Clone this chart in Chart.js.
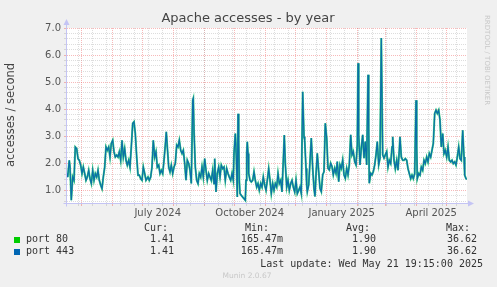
<!DOCTYPE html>
<html>
<head>
<meta charset="utf-8">
<script src="https://cdn.jsdelivr.net/npm/chart.js@4"></script>
<style>
html,body{margin:0;padding:0;background:#f0f0f0;}
#wrap{width:497px;height:287px;position:relative;}
</style>
</head>
<body>
<div id="wrap"><canvas id="c" width="497" height="287"></canvas></div>
<script>
// ---- data (days since 2024-04-16 19:15, accesses/second) ----
const days = [0,0.7,2.3,3,4.3,5.7,7,8.3,9.7,11,12.3,13.7,15,16.3,17.7,19,20.3,21.7,23,24.3,25.7,27,28.3,29.7,31,32.3,33.7,35,36.3,37.7,39,40.3,41.7,43,44.3,45.7,47,48.3,49.7,51,52.3,53.7,55,56.3,57.7,59,60.3,61.7,63,64.3,65.7,67,68.3,69.7,71,72.3,73.7,75,76.3,77.7,79,
81,82.3,83.7,85,86.3,87.7,89,90.3,91.7,93,94.3,95.7,97,98.3,99.3,100.3,101.7,103,104.3,105.7,107,108.3,109.7,111,112.3,113.7,115,116.3,117.7,119,120.3,121.7,123,124.3,125.7,126.3,127,128.3,129.7,131,132.3,133.7,135,136.3,137.7,139,140.3,141.7,143,144.3,145.7,147,147.7,149,150.3,151.7,153,154.3,155.7,157,158.3,159.7,
161,162.3,163.7,165,166.3,167,168.3,169.3,170.3,171,171.7,172.3,173,174.3,175.7,177,178.3,179,179.7,180.3,181,181.7,183,184.3,185.7,187,188.3,189.7,191,192.3,193.7,195,196.3,197.7,199,200.3,201.7,203,204.3,205.7,207,208.3,209.7,211,212.3,213.7,215,216.3,217.3,218.3,219.7,221,222.3,223.7,225,226.3,227.7,229,230.3,231.7,233,234.3,235.7,237,237.7,
239,239.7,240.3,241.7,243,244.3,245.7,247,248,249,250.3,251.7,253,254.3,255.7,257,258.3,259.7,261,262.3,263.7,265,266.3,267.7,269,270.3,271.7,273,274.3,275.7,277,278.3,279.7,281,282.3,283.7,285,286.3,287.7,289,290.3,291,291.7,293,294.3,295.7,297,298.3,299.7,301,301.7,302.3,303.7,305,306.3,307.7,309,310.3,311.7,313,314.3,315.7,317,318.3,319.7,
321,322.3,323.7,325,325.7,327,328.3,329.7,331,332.3,333,334.3,335.7,337,338.3,339.7,341,342.3,343.7,345,346.3,347.7,349,349.7,350.3,351.7,353,354.3,355.7,357,358.3,359.7,361,362.3,363.7,365,366.3,367.7,369,370.3,371.7,373,374.3,375.7,377,378.3,379.7,381,382.3,383.7,385,386.3,387.7,389,390.3,391.7,393,394.3,395.7,397,397.7,399,400];

const port80 = [1.62,1.49,2.11,1.86,0.63,1.49,1.37,2.6,2.54,2.17,2.11,1.93,1.62,1.86,1.62,1.37,1.49,1.74,1.43,1.25,1.74,1.37,1.62,1.49,1.74,1.37,1.19,1.06,1.49,1.86,2.6,2.48,2.6,2.23,2.73,2.85,2.42,2.23,2.3,2.23,2.42,2.11,2.85,2.23,2.54,2.11,1.93,2.11,1.86,2.6,3.47,3.53,3.1,2.23,1.56,1.56,1.43,1.37,1.86,1.62,1.37,
1.49,1.37,1.49,1.86,2.85,2.23,2.42,1.86,1.93,1.62,1.74,1.62,2.11,2.67,3.16,2.6,1.86,1.68,1.93,1.62,1.86,1.99,2.67,2.6,2.85,2.48,2.36,2.48,1.99,1.37,2.11,1.99,1.74,1.25,4.33,4.4,3.22,1.86,1.37,1.25,1.62,1.49,1.86,1.49,2.17,1.74,1.37,1.62,1.49,1.37,1.74,1.25,2.17,0.94,1.62,1.86,1.49,1.93,1.8,1.86,1.37,1.8,
1.62,1.49,1.37,1.62,1.37,2.36,3.1,2.23,0.75,3.83,2.85,1.37,0.88,0.81,0.75,0.69,0.63,1.37,2.36,2.79,2.36,1.62,1.37,1.31,1.37,1.68,1.37,1.12,1.25,1.0,1.25,1.12,1.49,1.19,1.0,1.37,1.8,1.37,0.88,1.25,1.0,1.25,1.12,1.62,1.25,1.37,0.94,2.11,3.04,1.99,1.12,1.37,1.0,1.25,1.37,1.12,0.94,1.37,0.88,1.0,1.12,0.88,4.64,2.98,2.85,
1.81,1.2,0.95,1.2,2.06,2.93,1.81,1.07,0.77,1.57,2.37,1.69,1.07,0.95,1.57,1.69,3.48,2.93,1.81,1.75,2.0,1.88,1.57,1.81,1.63,2.06,1.32,1.94,1.81,2.12,1.57,1.44,1.81,1.57,1.94,3.05,2.31,2.43,2.06,1.94,2.68,5.7,3.05,1.94,2.56,3.05,2.19,2.8,1.94,5.27,3.3,1.26,1.63,1.57,1.69,1.94,2.31,2.8,1.94,2.19,6.63,2.31,2.19,2.31,2.43,
1.86,2.11,1.99,2.6,2.98,2.11,1.8,2.11,1.74,2.48,2.98,2.23,2.11,2.11,2.17,2.11,1.8,1.62,1.43,1.56,1.43,1.62,4.33,2.6,1.43,1.62,1.56,1.86,1.74,2.11,1.99,2.23,2.05,2.36,2.23,2.48,2.73,3.84,3.96,3.84,3.96,3.59,2.6,3.1,2.36,2.48,2.23,2.6,2.11,2.05,2.11,1.99,2.05,1.93,2.23,2.6,2.17,2.11,3.22,2.23,1.56,1.43,1.41];

const port443 = [1.62,1.49,2.11,1.86,0.63,1.49,1.37,2.6,2.54,2.17,2.11,1.93,1.62,1.86,1.62,1.37,1.49,1.74,1.43,1.25,1.74,1.37,1.62,1.49,1.74,1.37,1.19,1.06,1.49,1.86,2.6,2.48,2.6,2.23,2.73,2.85,2.42,2.23,2.3,2.23,2.42,2.11,2.85,2.23,2.54,2.11,1.93,2.11,1.86,2.6,3.47,3.53,3.1,2.23,1.56,1.56,1.43,1.37,1.86,1.62,1.37,
1.49,1.37,1.49,1.86,2.85,2.23,2.42,1.86,1.93,1.62,1.74,1.62,2.11,2.67,3.16,2.6,1.86,1.68,1.93,1.62,1.86,1.99,2.67,2.6,2.85,2.48,2.36,2.48,1.99,1.37,2.11,1.99,1.74,1.25,4.33,4.4,3.22,1.86,1.37,1.25,1.62,1.49,1.86,1.49,2.17,1.74,1.37,1.62,1.49,1.37,1.74,1.25,2.17,0.94,1.62,1.86,1.49,1.93,1.8,1.86,1.37,1.8,
1.62,1.49,1.37,1.62,1.37,2.36,3.1,2.23,0.75,3.83,2.85,1.37,0.88,0.81,0.75,0.69,0.63,1.37,2.36,2.79,2.36,1.62,1.37,1.31,1.37,1.68,1.37,1.12,1.25,1.0,1.25,1.12,1.49,1.19,1.0,1.37,1.8,1.37,0.88,1.25,1.0,1.25,1.12,1.62,1.25,1.37,0.94,2.11,3.04,1.99,1.12,1.37,1.0,1.25,1.37,1.12,0.94,1.37,0.88,1.0,1.12,0.88,4.64,2.98,2.85,
1.81,1.2,0.95,1.2,2.06,2.93,1.81,1.07,0.77,1.57,2.37,1.69,1.07,0.95,1.57,1.69,3.48,2.93,1.81,1.75,2.0,1.88,1.57,1.81,1.63,2.06,1.32,1.94,1.81,2.12,1.57,1.44,1.81,1.57,1.94,3.05,2.31,2.43,2.06,1.94,2.68,5.7,3.05,1.94,2.56,3.05,2.19,2.8,1.94,5.27,3.3,1.26,1.63,1.57,1.69,1.94,2.31,2.8,1.94,2.19,6.63,2.31,2.19,2.31,2.43,
1.86,2.11,1.99,2.6,2.98,2.11,1.8,2.11,1.74,2.48,2.98,2.23,2.11,2.11,2.17,2.11,1.8,1.62,1.43,1.56,1.43,1.62,4.33,2.6,1.43,1.62,1.56,1.86,1.74,2.11,1.99,2.23,2.05,2.36,2.23,2.48,2.73,3.84,3.96,3.84,3.96,3.59,2.6,3.1,2.36,2.48,2.23,2.6,2.11,2.05,2.11,1.99,2.05,1.93,2.23,2.6,2.17,2.11,3.22,2.23,1.56,1.43,1.41];

const xLabels = ['July 2024','October 2024','January 2025','April 2025'];
const xLabelDates = [Date.UTC(2024,6,16,12), Date.UTC(2024,9,16,12), Date.UTC(2025,0,16,12), Date.UTC(2025,3,16,0)];
const yTickLabels = ['1.0','2.0','3.0','4.0','5.0','6.0','7.0'];

const legendRows = [
  {name:'port 80',  color:'#00cc00', cur:'1.41', min:'165.47m', avg:'1.90', max:'36.62'},
  {name:'port 443', color:'#0066b3', cur:'1.41', min:'165.47m', avg:'1.90', max:'36.62'}
];

// ---- tick construction ----
const startMs = Date.UTC(2024,3,16,19,15);
const DAY = 86400000;
const toDay = ms => (ms - startMs) / DAY;
const xTickDefs = [];
for (let i = 0; i < 13; i++) {
  const d = new Date(Date.UTC(2024, 4 + i, 1));
  xTickDefs.push({v: toDay(d.getTime()), kind: 'major', label: ''});
}
for (let ms = Date.UTC(2024,3,28); toDay(ms) < 400; ms += 14*DAY) {
  xTickDefs.push({v: toDay(ms), kind: 'minor', label: ''});
}
xLabelDates.forEach((ms, i) => xTickDefs.push({v: toDay(ms), kind: 'label', label: xLabels[i]}));
xTickDefs.sort((a,b) => a.v - b.v);

const yTickDefs = [];
for (let k = 3; k <= 35; k++) {
  const v = k / 5;
  const isInt = k % 5 === 0;
  yTickDefs.push({v, kind: isInt ? 'major' : 'minor', label: isInt ? yTickLabels[k/5 - 1] : ''});
}

const MAJOR = 'rgba(235,80,80,0.4)';
const MINOR = 'rgba(170,170,170,0.4)';

const pts80 = days.map((d,i) => ({x:d, y:port80[i]}));
const pts443 = days.map((d,i) => ({x:d, y:port443[i]}));

const decor = {
  id: 'decor',
  beforeDraw(chart) {
    const {ctx, chartArea: a} = chart;
    ctx.save();
    ctx.fillStyle = '#f0f0f0';
    ctx.fillRect(0, 0, chart.width, chart.height);
    ctx.fillStyle = '#ffffff';
    ctx.fillRect(a.left, a.top, a.right - a.left, a.bottom - a.top);
    ctx.restore();
  },
  afterDatasetsDraw(chart) {
    const {ctx, chartArea: a} = chart;
    ctx.save();
    ctx.strokeStyle = '#c4c4f4';
    ctx.fillStyle = '#c4c4f4';
    ctx.lineWidth = 1;
    const ax = Math.round(a.left) - 0.5, by = Math.round(a.bottom) + 0.5;
    ctx.beginPath();
    ctx.moveTo(ax, by + 3); ctx.lineTo(ax, a.top - 5);
    ctx.moveTo(ax - 3, by); ctx.lineTo(a.right + 3, by);
    ctx.stroke();
    ctx.beginPath();
    ctx.moveTo(ax, a.top - 9); ctx.lineTo(ax - 3, a.top - 3); ctx.lineTo(ax + 3, a.top - 3); ctx.closePath(); ctx.fill();
    ctx.beginPath();
    ctx.moveTo(a.right + 7, by); ctx.lineTo(a.right + 1, by - 3); ctx.lineTo(a.right + 1, by + 3); ctx.closePath(); ctx.fill();
    ctx.restore();
  },
  afterDraw(chart) {
    const {ctx} = chart;
    ctx.save();
    ctx.fillStyle = '#444';
    ctx.font = '13px "DejaVu Sans"';
    ctx.textAlign = 'center';
    ctx.textBaseline = 'middle';
    ctx.fillText('Apache accesses - by year', 248, 19);
    ctx.save();
    ctx.translate(11, 115);
    ctx.rotate(-Math.PI/2);
    ctx.font = '11.5px "DejaVu Sans"';
    ctx.fillStyle = '#444';
    ctx.fillText('accesses / second', 0, 0);
    ctx.restore();
    ctx.save();
    ctx.translate(487, 15);
    ctx.rotate(Math.PI/2);
    ctx.textAlign = 'left';
    ctx.font = '7px "DejaVu Sans"';
    ctx.fillStyle = '#c8c8c8';
    ctx.fillText('RRDTOOL / TOBI OETIKER', 0, 0);
    ctx.restore();
    ctx.font = '10px "DejaVu Sans Mono"';
    ctx.fillStyle = '#333';
    ctx.textAlign = 'right';
    ctx.fillText('Cur:', 168, 228);
    ctx.fillText('Min:', 269, 228);
    ctx.fillText('Avg:', 370, 228);
    ctx.fillText('Max:', 470, 228);
    const rowY = [239.5, 251.8];
    legendRows.forEach((r, i) => {
      const y = rowY[i];
      ctx.fillStyle = r.color;
      ctx.fillRect(14, Math.round(y) - 3, 6, 6);
      ctx.fillStyle = '#333';
      ctx.textAlign = 'left';
      ctx.fillText(r.name, 26, y);
      ctx.textAlign = 'right';
      ctx.fillText(r.cur, 174, y);
      ctx.fillText(r.min, 283, y);
      ctx.fillText(r.avg, 376, y);
      ctx.fillText(r.max, 477, y);
    });
    ctx.fillText('Last update: Wed May 21 19:15:00 2025', 483, 264);
    ctx.textAlign = 'center';
    ctx.font = '7.5px "DejaVu Sans"';
    ctx.fillStyle = '#c8c8c8';
    ctx.fillText('Munin 2.0.67', 247, 276);
    ctx.restore();
  }
};

Chart.defaults.font.family = '"DejaVu Sans"';

new Chart(document.getElementById('c'), {
  type: 'line',
  data: {
    datasets: [
      {label: 'port 80', data: pts80, borderColor: 'rgba(40,200,120,0.9)', borderWidth: 2, pointRadius: 0, tension: 0, fill: false, order: 2},
      {label: 'port 443', data: pts443, borderColor: '#0a6fa8', borderWidth: 1.2, pointRadius: 0, tension: 0, fill: false, order: 1}
    ]
  },
  options: {
    responsive: false,
    animation: false,
    events: [],
    layout: {padding: {left: 0, right: 30, top: 28, bottom: 0}},
    plugins: {legend: {display: false}, tooltip: {enabled: false}, title: {display: false}},
    scales: {
      x: {
        type: 'linear', min: 0, max: 400, bounds: 'data',
        afterBuildTicks(scale) { scale.ticks = xTickDefs.map(d => ({value: d.v})); },
        afterFit(scale) { scale.height = 84; },
        ticks: {
          autoSkip: false, maxRotation: 0, minRotation: 0, padding: 1,
          color: '#555', font: {size: 10},
          callback: (v, i) => xTickDefs[i] ? xTickDefs[i].label : ''
        },
        grid: {
          drawTicks: true, tickLength: 3, lineWidth: 1,
          color: c => { const d = xTickDefs[c.index]; return !d || d.kind === 'label' ? 'rgba(0,0,0,0)' : (d.kind === 'major' ? MAJOR : MINOR); },
          tickColor: c => { const d = xTickDefs[c.index]; return !d || d.kind === 'label' ? 'rgba(0,0,0,0)' : (d.kind === 'major' ? MAJOR : MINOR); }
        },
        border: {display: false, dash: [1,1]}
      },
      y: {
        type: 'linear', min: 0.53, max: 7.0, bounds: 'data',
        afterBuildTicks(scale) { scale.ticks = yTickDefs.map(d => ({value: d.v})); },
        afterFit(scale) { scale.width = 67; },
        ticks: {
          autoSkip: false, padding: 3, color: '#555', font: {size: 10},
          callback: (v, i) => yTickDefs[i] ? yTickDefs[i].label : ''
        },
        grid: {
          drawTicks: true, tickLength: 3, lineWidth: 1,
          color: c => { const d = yTickDefs[c.index]; return d && d.kind === 'major' ? MAJOR : MINOR; },
          tickColor: c => { const d = yTickDefs[c.index]; return d && d.kind === 'major' ? MAJOR : MINOR; }
        },
        border: {display: false, dash: [1,1]}
      }
    }
  },
  plugins: [decor]
});
</script>
</body>
</html>
